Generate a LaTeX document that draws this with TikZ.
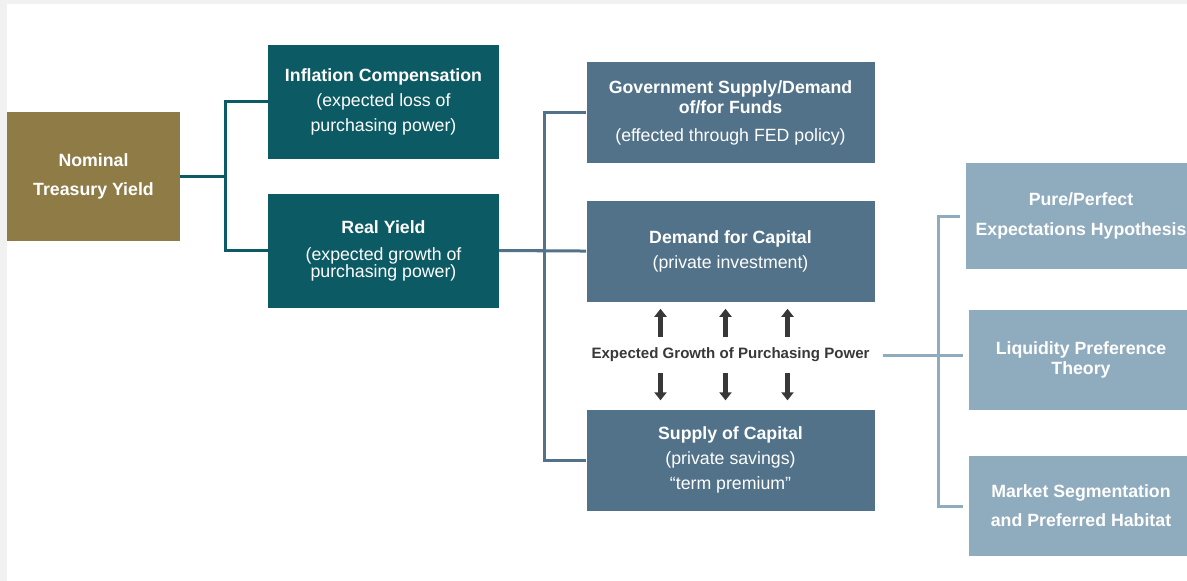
\documentclass[tikz,border=0pt]{standalone}
\usepackage{fontspec}
\setmainfont{Liberation Sans}
\usetikzlibrary{arrows.meta,positioning}
\definecolor{gold}{HTML}{8F7B46}
\definecolor{petrol}{HTML}{0C5B64}
\definecolor{slate}{HTML}{517289}
\definecolor{mist}{HTML}{8FABBE}
\definecolor{ink}{HTML}{383838}
\definecolor{frame}{HTML}{F1F1F1}

\begin{document}
\begin{tikzpicture}[x=0.75pt,y=-0.75pt, every node/.style={font=\fontsize{13.3}{18.75}\selectfont,align=center,text=white,inner sep=0pt}, nombox/.style={fill=gold,font=\fontsize{13.3}{18.75}\selectfont\bfseries,minimum width=129.75pt,minimum height=96.75pt}, yieldbox/.style={fill=petrol,minimum width=173.25pt,minimum height=85.5pt}, fundbox/.style={fill=slate,minimum width=216pt,minimum height=75.75pt}, theorybox/.style={fill=mist,font=\fontsize{13.3}{18.75}\selectfont\bfseries,minimum width=168pt,minimum height=75pt}, tie/.style={line width=2.25pt}, bump/.style={ink,line width=3.3pt,-{Triangle[width=9pt,length=6pt]}}]
\clip (0,0) rectangle (1187,581);
\fill[frame] (0,0) rectangle (1187,581);
\fill[white] (7,4) rectangle (1187,581);
% yield split
\node[nombox] (nominal) at (93.5,176.5) {Nominal\\[3pt]Treasury Yield};
\node[yieldbox] (inflation) at (383.5,102) {\textbf{Inflation Compensation}\\(expected loss of\\purchasing power)};
\node[yieldbox,below=25.5pt of inflation] (real) {\textbf{Real Yield}\\[1.5pt](expected growth of\\[-6pt]purchasing power)};
% funds and capital
\node[fundbox] (gov) at (730.5,112.5) {\textbf{Government Supply/Demand}\\[-3.75pt]\textbf{of/for Funds}\\[2.25pt](effected through FED policy)};
\node[fundbox,below=27.75pt of gov] (demand) {\textbf{Demand for Capital}\\(private investment)};
\node[below=26.25pt of demand,minimum height=27pt,inner xsep=10pt,text=ink,font=\fontsize{11.3}{13}\selectfont\bfseries] (growth) {Expected Growth of Purchasing Power};
\node[fundbox,below=27pt of growth] (supply) {\textbf{Supply of Capital}\\(private savings)\\“term premium”};
% term structure theories
\node[theorybox,minimum width=172.5pt,minimum height=79.5pt] (pure) at (1081,216) {Pure/Perfect\\[3.75pt]Expectations Hypothesis};
\node[theorybox] (liquidity) at (1081,359.5) {Liquidity Preference\\[-3.75pt]Theory};
\node[theorybox] (market) at (1081,506) {Market Segmentation\\[3pt]and Preferred Habitat};
\draw[tie,petrol] (nominal.east) -- ++(45,0) |- (inflation.west); \draw[tie,petrol] (nominal.east) -- ++(45,0) |- (real.west);
\draw[tie,slate] (real.east) -- ++(45,0) |- (gov.west); \draw[tie,slate] (real.east) -- (demand.west); \draw[tie,slate] (real.east) -- ++(45,0) |- (supply.west);
\foreach \dx in {-52.5,-3.75,42.75}{\draw[bump,shorten >=5.25pt] ([xshift=\dx pt]growth.north) -- ([xshift=\dx pt]demand.south); \draw[bump,shorten >=6.75pt] ([xshift=\dx pt]growth.south) -- ([xshift=\dx pt]supply.north);}
\draw[tie,mist,shorten >=4.5pt] (growth.east) -- (growth.east -| liquidity.west); \draw[tie,mist,shorten >=4.5pt] (growth.east) -- ++(55,0) |- (pure.west); \draw[tie,mist,shorten >=4.5pt] (growth.east) -- ++(55,0) |- (market.west);
\end{tikzpicture}
\end{document}
